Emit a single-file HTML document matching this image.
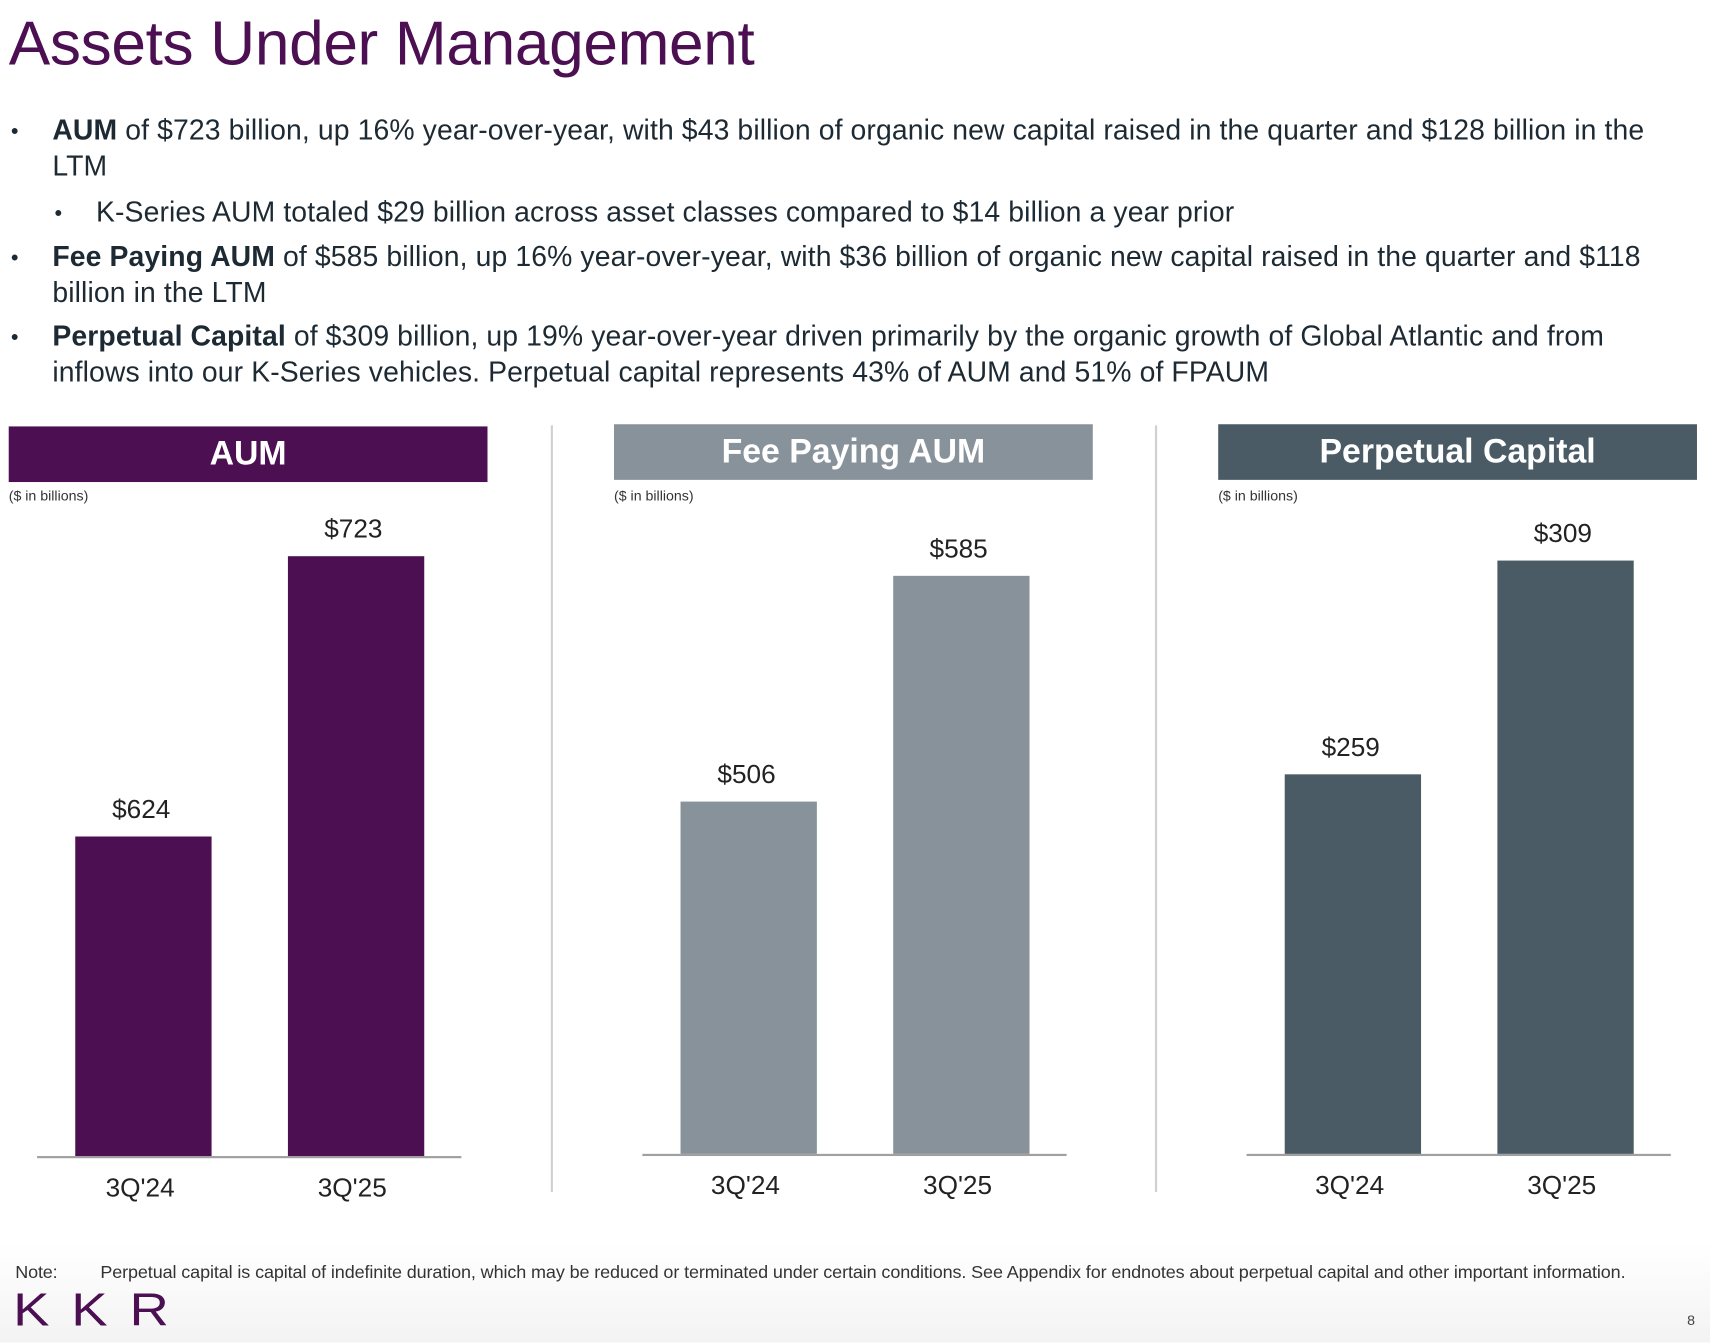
<!DOCTYPE html>
<html><head><meta charset="utf-8"><style>
html,body{margin:0;padding:0;background:#fff;overflow:hidden}
#wrap{position:absolute;left:0;top:0;width:1568px;height:1231px;transform:scale(1.0906);transform-origin:0 0;font-family:"Liberation Sans",sans-serif;color:#1a1a1a}
.abs{position:absolute;white-space:nowrap}
.title{left:8px;top:7px;font-size:57px;color:#4B0F52;letter-spacing:-0.3px}
.b{font-size:26px;color:#1d2a33;letter-spacing:0.1px}
.dot{font-size:20px}
.hdr{height:51px;color:#fff;font-weight:bold;font-size:31px;text-align:center;line-height:49px}
.unit{font-size:13px;color:#333}
.div{width:2px;background:#d0d0d0}
.foot{position:absolute;left:0;top:1140px;width:1568px;height:91px;background:linear-gradient(#fff,#f3f3f3)}
</style></head><body>
<div id="wrap">
<div class="foot"></div>
<div class="abs title">Assets Under Management</div>

<div class="abs b dot" style="left:10px;top:110px">•</div>
<div class="abs b" style="left:48px;top:104px"><b>AUM</b> of $723 billion, up 16% year-over-year, with $43 billion of organic new capital raised in the quarter and $128 billion in the</div>
<div class="abs b" style="left:48px;top:137px">LTM</div>
<div class="abs b dot" style="left:50px;top:185px">•</div>
<div class="abs b" style="left:88px;top:179px">K-Series AUM totaled $29 billion across asset classes compared to $14 billion a year prior</div>
<div class="abs b dot" style="left:10px;top:226px">•</div>
<div class="abs b" style="left:48px;top:220px"><b>Fee Paying AUM</b> of $585 billion, up 16% year-over-year, with $36 billion of organic new capital raised in the quarter and $118</div>
<div class="abs b" style="left:48px;top:253px">billion in the LTM</div>
<div class="abs b dot" style="left:10px;top:299px">•</div>
<div class="abs b" style="left:48px;top:293px"><b>Perpetual Capital</b> of $309 billion, up 19% year-over-year driven primarily by the organic growth of Global Atlantic and from</div>
<div class="abs b" style="left:48px;top:326px">inflows into our K-Series vehicles. Perpetual capital represents 43% of AUM and 51% of FPAUM</div>

<div class="abs div" style="left:505px;top:390px;height:703px"></div>
<div class="abs div" style="left:1059px;top:390px;height:703px"></div>

<div id="charts"></div>

<div class="abs" style="left:14px;top:1158px;font-size:16.5px;color:#333;letter-spacing:-0.15px">Note:</div>
<div class="abs" style="left:92px;top:1158px;font-size:16.5px;color:#333;letter-spacing:-0.1px">Perpetual capital is capital of indefinite duration, which may be reduced or terminated under certain conditions. See Appendix for endnotes about perpetual capital and other important information.</div>
<div class="abs" style="left:12px;top:1172px;font-size:50px;color:#4B0F52;letter-spacing:20px;transform:scaleY(0.85);transform-origin:0 50%">KKR</div>
<div class="abs" style="left:1547px;top:1203px;font-size:13px;color:#444">8</div>
</div>
<script>
const chartTitles = ["AUM", "Fee Paying AUM", "Perpetual Capital"];
const categories = ["3Q'24", "3Q'25"];
const aumValues = [624, 723];
const fpaumValues = [506, 585];
const perpValues = [259, 309];
const valueLabels = [["$624","$723"],["$506","$585"],["$259","$309"]];
const yDomainMin = [511, 382, 170];
const yDomainMax = [723, 592, 310];
const colors = ["#4B0F52", "#88929A", "#4B5B65"];
const series = [aumValues, fpaumValues, perpValues];
const panelX = [8, 563, 1117];
const headerY = [391, 389, 389];
const baseY = [1061, 1059, 1059];
const plotTop = 510;
const root = document.getElementById('charts');
series.forEach((vals, i) => {
  const px = panelX[i];
  const g = document.createElement('div');
  
  
  root.appendChild(g);
  const h = document.createElement('div');
  h.className = 'abs hdr';
  h.style.cssText = `left:${px}px;top:${headerY[i]}px;width:439px;background:${colors[i]}`;
  h.textContent = chartTitles[i];
  
  
  g.appendChild(h);
  const u = document.createElement('div');
  u.className = 'abs unit';
  u.style.cssText = `left:${px}px;top:447px`;
  u.textContent = '($ in billions)';
  
  
  g.appendChild(u);
  const y = v => baseY[i] - (v - yDomainMin[i]) / (yDomainMax[i] - yDomainMin[i]) * (baseY[i] - plotTop);
  const ax = document.createElement('div');
  ax.className = 'abs';
  ax.style.cssText = `left:${px+26}px;top:${baseY[i]-1}px;width:389px;height:2px;background:#a0a0a0`;
  
  
  g.appendChild(ax);
  vals.forEach((v, j) => {
    const bx = px + 61 + j * 194.5;
    const top = y(v);
    const bar = document.createElement('div');
    bar.className = 'abs';
    bar.style.cssText = `left:${bx}px;top:${top}px;width:125px;height:${baseY[i]-1-top}px;background:${colors[i]}`;
    
    
    g.appendChild(bar);
    const lab = document.createElement('div');
    lab.className = 'abs';
    lab.style.cssText = `left:${bx-2}px;width:125px;text-align:center;top:${top-38}px;font-size:24px;color:#222`;
    lab.textContent = valueLabels[i][j];
    
    
    g.appendChild(lab);
    const c = document.createElement('div');
    c.className = 'abs';
    c.style.cssText = `left:${bx-3}px;width:125px;text-align:center;top:${baseY[i]+15}px;font-size:24px;color:#222`;
    c.textContent = categories[j];
    
    
    g.appendChild(c);
  });
});
</script>
</body></html>
